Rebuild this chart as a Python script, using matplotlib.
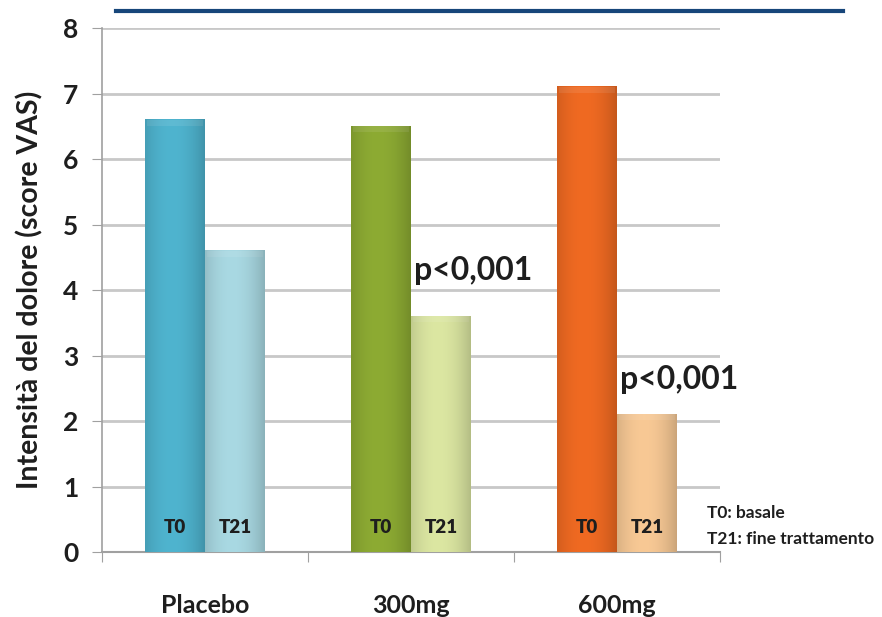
import matplotlib
matplotlib.use("Agg")
import matplotlib.pyplot as plt
import numpy as np
from matplotlib.colors import to_rgb
from matplotlib.lines import Line2D

plt.rcParams['font.family'] = ['Lato', 'DejaVu Sans']

categories = ["Placebo", "300mg", "600mg"]
t0_values = [6.6, 6.5, 7.1]
t21_values = [4.6, 3.6, 2.1]
t0_colors = ["#4fb4cf", "#8dab33", "#f06a22"]
t21_colors = ["#a9d9e3", "#dce7a2", "#f8c995"]
t0_label = "T0"
t21_label = "T21"
p_labels = [None, "p<0,001", "p<0,001"]
legend_lines = ["T0: basale", "T21: fine trattamento"]
y_ticks = [0, 1, 2, 3, 4, 5, 6, 7, 8]
ylabel = "Intensità del dolore (score VAS)"

fig = plt.figure(figsize=(8.82, 6.17), dpi=100)
ax = fig.add_axes([0.1156, 0.1053, 0.8164 - 0.1156, 0.9546 - 0.1053])

x = np.arange(len(categories))
w = 0.29
p_offsets = [0, 0.7, 0.54]


def shade(bars, colors):
    for b, c in zip(bars, colors):
        base = np.array(to_rgb(c))
        xs = np.linspace(0, 1, 64)
        f = 1 - 0.18 * (np.abs(xs - 0.45) / 0.55) ** 2
        grad = np.clip(base[None, :] * f[:, None], 0, 1)
        x0, y0 = b.get_x(), b.get_y()
        h = b.get_height()
        ax.imshow(grad[None, :, :], extent=[x0, x0 + b.get_width(), y0, y0 + h],
                  aspect='auto', zorder=3, clip_path=b, clip_on=True, interpolation='bilinear')
        light = np.clip(grad * 0.85 + 0.15, 0, 1)
        ax.imshow(light[None, :, :], extent=[x0 + 0.01, x0 + b.get_width() - 0.01, h - 0.09, h],
                  aspect='auto', zorder=4, interpolation='bilinear', alpha=0.6)


b0 = ax.bar(x - w / 2, t0_values, width=w, color=t0_colors, zorder=2,
            edgecolor='none')
b1 = ax.bar(x + w / 2, t21_values, width=w, color=t21_colors, zorder=2,
            edgecolor='none')
shade(b0, t0_colors)
shade(b1, t21_colors)

for i in range(len(categories)):
    ax.text(x[i] - w / 2, 0.38, t0_label, ha='center', va='center', fontsize=13.5,
            fontweight='heavy', color='#1e1e1e', zorder=5)
    ax.text(x[i] + w / 2, 0.38, t21_label, ha='center', va='center', fontsize=13.5,
            fontweight='heavy', color='#1e1e1e', zorder=5)
    if p_labels[i]:
        ax.text(x[i] + 0.015, t21_values[i] + p_offsets[i], p_labels[i], ha='left', va='center',
                fontsize=23, fontweight='bold', color='#1e1e1e', zorder=5)

ax.set_xlim(-0.5, 2.5)
ax.set_ylim(0, 8)
ax.set_yticks(y_ticks)
ax.set_yticklabels([str(t) for t in y_ticks], fontsize=19, fontweight='bold', color='#1e1e1e')
ax.set_xticks([-0.5, 0.5, 1.5, 2.5])
ax.set_xticklabels([])
ax.set_xticks(x, minor=True)
ax.set_xticklabels(categories, minor=True, fontsize=18, fontweight='bold', color='#1e1e1e')
ax.tick_params(axis='x', which='minor', length=0, pad=30)
ax.tick_params(axis='x', which='major', length=7, color='#a0a0a0', direction='out')
ax.tick_params(axis='y', length=7, color='#a0a0a0', pad=10)

ax.grid(axis='y', color='#c8c8c8', lw=2, zorder=0)
ax.set_axisbelow(True)
for s in ['top', 'right']:
    ax.spines[s].set_visible(False)
ax.spines['left'].set_color('#a0a0a0')
ax.spines['bottom'].set_color('#a0a0a0')
ax.spines['left'].set_linewidth(1.2)
ax.spines['bottom'].set_linewidth(1.5)
ax.set_ylabel(ylabel, fontsize=20.5, fontweight='bold', color='#1e1e1e', labelpad=14)

fig.text(707 / 882, 1 - 513 / 617, legend_lines[0], fontsize=12.5, fontweight='bold', color='#1e1e1e', va='center')
fig.text(707 / 882, 1 - 539 / 617, legend_lines[1], fontsize=12.5, fontweight='bold', color='#1e1e1e', va='center')

fig.add_artist(Line2D([116 / 882, 843 / 882], [1 - 11 / 617, 1 - 11 / 617],
                      color='#17467a', lw=3, transform=fig.transFigure))

fig.savefig("out.png", dpi=100)
